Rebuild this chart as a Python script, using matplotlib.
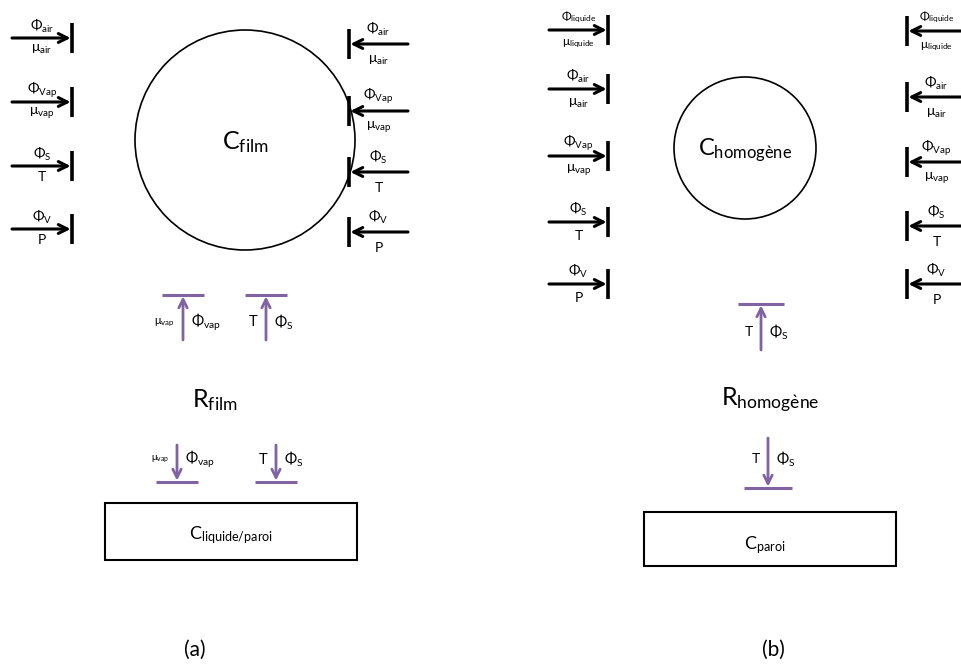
import matplotlib.pyplot as plt
from matplotlib.patches import Circle, Rectangle

plt.rcParams["font.family"] = ["Lato", "Open Sans", "DejaVu Sans"]
plt.rcParams["mathtext.fontset"] = "custom"
plt.rcParams["mathtext.rm"] = "Lato"
plt.rcParams["mathtext.it"] = "Lato:italic"

# ---------------------------------------------------------------------------
# Diagram content
# ---------------------------------------------------------------------------
film_top = [r"\Phi_{air}", r"\Phi_{Vap}", r"\Phi_{S}", r"\Phi_{V}"]
film_bottom = [r"\mu_{air}", r"\mu_{vap}", "T", "P"]

homo_top = [r"\Phi_{liquide}", r"\Phi_{air}", r"\Phi_{Vap}", r"\Phi_{S}", r"\Phi_{V}"]
homo_bottom = [r"\mu_{liquide}", r"\mu_{air}", r"\mu_{vap}", "T", "P"]

film_pairs = [(r"\mu_{vap}", r"\Phi_{vap}"), ("T", r"\Phi_{S}")]
homo_pairs = [("T", r"\Phi_{S}")]

panel_labels = ["(a)", "(b)"]
PURPLE = "#8064a2"


def m(s):
    return "$\\mathrm{" + s + "}$" if "\\" in s else s


def side_arrow(ax, x_tail, x_head, y, top, bottom, offs, small=False):
    """Horizontal black arrow ending on a vertical bar, with labels."""
    ax.annotate("", xy=(x_head, y), xytext=(x_tail, y),
                arrowprops=dict(arrowstyle="->", lw=2.2, color="black",
                                mutation_scale=16, shrinkA=0, shrinkB=1))
    ax.plot([x_head, x_head], [y - 15, y + 15], color="black", lw=2.6,
            solid_capstyle="butt")
    xc = (x_tail + x_head) / 2
    fs = 8.5 if small else 10
    ax.text(xc, y + offs[0], m(top), ha="center", va="center", fontsize=fs)
    ax.text(xc, y + offs[1], m(bottom), ha="center", va="center", fontsize=fs)


def vert_arrow(ax, x, y_tail, y_head, bar_w, left, right, left_fs=10):
    """Vertical purple arrow ending on a horizontal bar."""
    ax.annotate("", xy=(x, y_head), xytext=(x, y_tail),
                arrowprops=dict(arrowstyle="->", lw=2, color=PURPLE,
                                mutation_scale=15, shrinkA=0, shrinkB=1))
    ax.plot([x - bar_w / 2, x + bar_w / 2], [y_head, y_head], color=PURPLE,
            lw=2.2, solid_capstyle="butt")
    ym = (y_tail + y_head) / 2 + (5 if y_head < y_tail else -4)
    ax.text(x - 8, ym, m(left), ha="right", va="center", fontsize=left_fs)
    ax.text(x + 8, ym, m(right), ha="left", va="center", fontsize=10.5)


fig = plt.figure(figsize=(9.62, 6.64), dpi=100)
ax = fig.add_axes([0, 0, 1, 1])
ax.set_xlim(0, 962)
ax.set_ylim(664, 0)
ax.axis("off")

# ── Panel (a) ──────────────────────────────────────────────────────────────
ax.add_patch(Circle((245, 140), 110, fill=False, lw=1.2, ec="black"))
ax.text(245, 142, r"$\mathrm{C_{film}}$", ha="center", va="center", fontsize=18)

for y, top, bot in zip([38, 102, 166, 229], film_top, film_bottom):
    side_arrow(ax, 12, 72, y, top, bot, (-12, 11))
for y, top, bot in zip([44, 111, 172, 232], film_top, film_bottom):
    side_arrow(ax, 408, 349, y, top, bot, (-15, 16))

for x, (l, r) in zip([183, 266], film_pairs):
    vert_arrow(ax, x, 340, 295, 42, l, r, left_fs=8 if "mu" in l else 10.5)
ax.text(215, 400, r"$\mathrm{R_{film}}$", ha="center", va="center", fontsize=18)
for x, (l, r) in zip([177, 276], film_pairs):
    vert_arrow(ax, x, 445, 482, 42, l, r, left_fs=7 if "mu" in l else 10.5)

ax.add_patch(Rectangle((105, 503), 252, 57, fill=False, lw=1.5, ec="black"))
ax.text(231, 535, r"$\mathrm{C_{liquide/paroi}}$", ha="center", va="center",
        fontsize=13)
ax.text(195, 650, panel_labels[0], ha="center", va="center", fontsize=15)

# ── Panel (b) ──────────────────────────────────────────────────────────────
ax.add_patch(Circle((745, 148), 71, fill=False, lw=1.2, ec="black"))
ax.text(745, 150, r"$\mathrm{C_{homog\`ene}}$", ha="center", va="center",
        fontsize=17)

for i, (y, top, bot) in enumerate(zip([30, 89, 156, 222, 284], homo_top, homo_bottom)):
    side_arrow(ax, 549, 608, y, top, bot, (-13, 14), small=(i == 0))
for i, (y, top, bot) in enumerate(zip([31, 97, 162, 226, 284], homo_top, homo_bottom)):
    side_arrow(ax, 966, 907, y, top, bot, (-14, 16), small=(i == 0))

for x, (l, r) in zip([761], homo_pairs):
    vert_arrow(ax, x, 350, 304, 46, l, r)
ax.text(770, 400, r"$\mathrm{R_{homog\`ene}}$", ha="center", va="center",
        fontsize=18)
for x, (l, r) in zip([768], homo_pairs):
    vert_arrow(ax, x, 438, 488, 48, l, r)

ax.add_patch(Rectangle((644, 512), 252, 54, fill=False, lw=1.5, ec="black"))
ax.text(765, 545, r"$\mathrm{C_{paroi}}$", ha="center", va="center", fontsize=13)
ax.text(773, 650, panel_labels[1], ha="center", va="center", fontsize=15)

fig.savefig("out.png", dpi=100)
